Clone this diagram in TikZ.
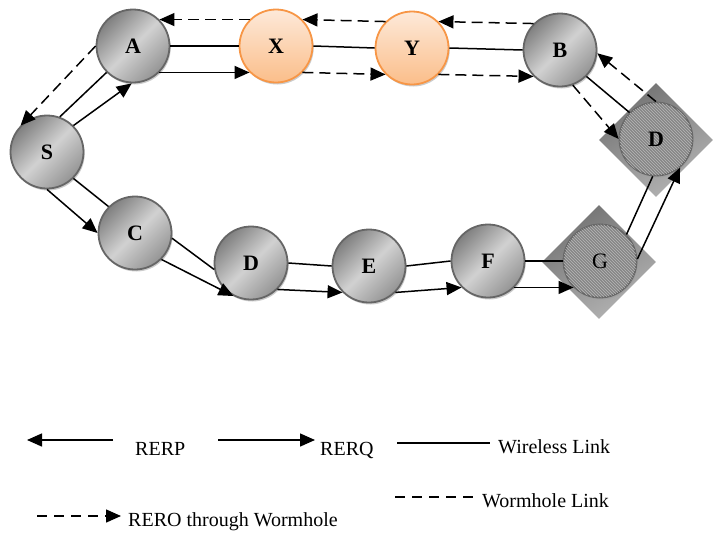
\documentclass[tikz,border=0pt]{standalone}
\usepackage{fontspec}
\setmainfont{Liberation Serif}
\usetikzlibrary{shapes.geometric,shadows,patterns,arrows.meta}
\definecolor{orbd}{HTML}{F79646}
\definecolor{ortop}{HTML}{FDE9D9}
\definecolor{orbot}{HTML}{FBBE8A}
\begin{document}
\begin{tikzpicture}[x=1pt,y=-1pt,
  nd/.style={circle, minimum size=73pt, inner sep=0pt, line width=1.8pt,
    font=\fontsize{22}{26}\selectfont\bfseries,
    drop shadow={shadow xshift=1.2pt,shadow yshift=-2pt,fill=black!40}},
  gnode/.style={nd, draw=black!60, top color=black!50, bottom color=black!42, middle color=black!18, shading angle=45},
  onode/.style={nd, draw=orbd, top color=ortop, bottom color=orbot},
  hnode/.style={nd, draw=black!60, fill=black!48, postaction={pattern=north west lines, pattern color=black!28}},
  dia/.style={diamond, minimum width=114pt, minimum height=114pt, inner sep=0pt, top color=black!55, bottom color=black!30, shading angle=30},
  wl/.style={line width=1.5pt},
  ar/.style={wl, -{Triangle[length=15pt,width=13pt]}},
  wh/.style={wl, dash pattern=on 11pt off 6pt},
  wha/.style={wh, -{Triangle[length=15pt,width=13pt]}},
  lbl/.style={font=\fontsize{20}{24}\selectfont, anchor=base west, inner sep=0pt}
]
\useasboundingbox (0,0) rectangle (719,533);

% diamonds
\node[dia] (Gd) at (599,262) {};
\node[dia] (Dd) at (656,140) {};

% nodes
\node[gnode] (A) at (133,46) {A};
\node[onode] (X) at (276,46) {X};
\node[onode] (Y) at (412,48) {Y};
\node[gnode] (B) at (560,50) {B};
\node[gnode] (S) at (47,152) {S};
\node[gnode] (C) at (135,233) {C};
\node[gnode] (D1) at (251,263) {D};
\node[gnode] (E) at (369,266) {E};
\node[gnode] (F) at (488,261) {F};
\node[hnode] (G) at (600,261) {\mdseries G};
\node[hnode] (D2) at (656,139) {D};

% top path
\draw[wl] (A.east) -- (X.west);
\draw[ar] (A.-45) -- (X.-135);
\draw[wha] (X.135) -- (A.45);
\draw[wl] (X.east) -- (Y.west);
\draw[wha] (Y.135) -- (X.45);
\draw[wha] (X.-45) -- (Y.-135);
\draw[wl] (Y.east) -- (B.west);
\draw[wha] (B.135) -- (Y.45);
\draw[wha] (Y.-45) -- (B.-135);
\draw[wl] (B.-45) -- (D2.135);
\draw[wha] (B.-70) -- (D2.180);
\draw[wha] (D2.90) -- (B.-5);

% S links
\draw[wl] (S.70) -- (A.-135);
\draw[ar] (S.45) -- (A.-92);
\draw[wha] (A.west) -- (S.135);
\draw[wl] (S.-45) -- (C.135);
\draw[ar] (S.-90) -- (C.180);

% bottom path
\draw[wl] (C.-8) -- (D1.190);
\draw[ar] (C.-45) -- (D1.-118);
\draw[wl] (D1.east) -- (E.west);
\draw[ar] (D1.-45) -- (E.-135);
\draw[wl] (E.east) -- (F.west);
\draw[ar] (E.-45) -- (F.-135);
\draw[wl] (F.east) -- (G.west);
\draw[ar] (F.-45) -- (G.-135);
\draw[wl] (G.45) -- (D2.-95);
\draw[ar] (G.3) -- (D2.-50);

% legend
\coordinate (p1) at (113,440); \coordinate (p2) at (27,440);
\draw[ar] (p1) -- (p2);
\node[lbl] (tp) at (135,455) {RERP};
\coordinate (q1) at (218,440); \coordinate (q2) at (315,440);
\draw[ar] (q1) -- (q2);
\node[lbl] (tq) at (320,455) {RERQ};
\coordinate (w1) at (397,443); \coordinate (w2) at (490,443);
\draw[wl] (w1) -- (w2);
\node[lbl] (tw) at (498,453) {Wireless Link};
\coordinate (m1) at (395,497); \coordinate (m2) at (476,497);
\draw[wl, dash pattern=on 10pt off 7pt] (m1) -- (m2);
\node[lbl] (tm) at (482,507) {Wormhole Link};
\coordinate (r1) at (37,516); \coordinate (r2) at (121,516);
\draw[wl, dash pattern=on 10pt off 7pt, -{Triangle[length=15pt,width=13pt]}] (r1) -- (r2);
\node[lbl] (tr) at (128,526) {RERO through Wormhole};
\end{tikzpicture}
\end{document}
